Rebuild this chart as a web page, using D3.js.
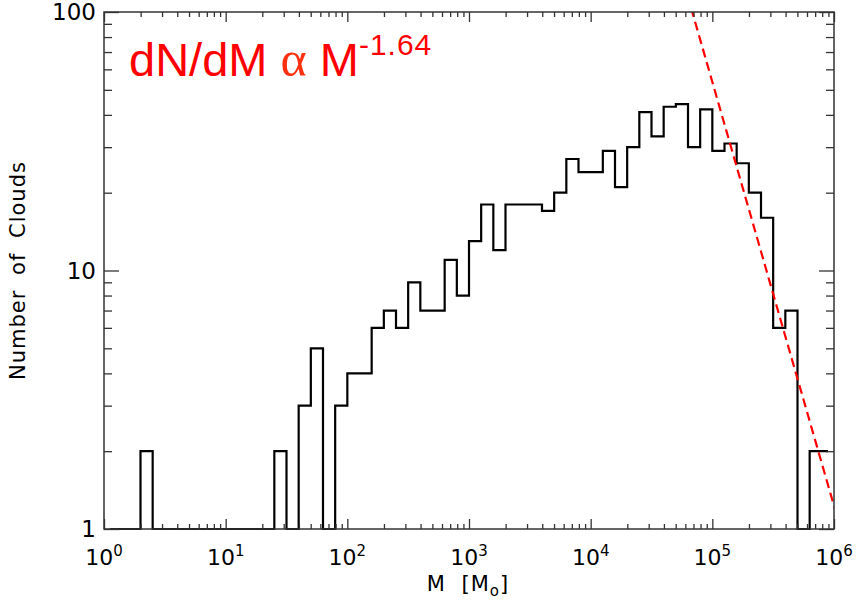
<!DOCTYPE html>
<html>
<head>
<meta charset="utf-8">
<script src="https://cdn.jsdelivr.net/npm/d3@7"></script>
<style>
  body { margin: 0; background: #fff; }
  text { font-family: "DejaVu Sans", sans-serif; }
</style>
</head>
<body>
<script>
// chart size & plot box
var width = 858,
    height = 603;
var margin = {left: 104, right: 24, top: 12, bottom: 74};

// log10(M) bin centres of the histogram (0.1 dex bins)
var logMassCentres = [0.05, 0.15, 0.25, 0.35, 0.45, 0.55, 0.65, 0.75, 0.85, 0.95,
                      1.05, 1.15, 1.25, 1.35, 1.45, 1.55, 1.65, 1.75, 1.85, 1.95,
                      2.05, 2.15, 2.25, 2.35, 2.45, 2.55, 2.65, 2.75, 2.85, 2.95,
                      3.05, 3.15, 3.25, 3.35, 3.45, 3.55, 3.65, 3.75, 3.85, 3.95,
                      4.05, 4.15, 4.25, 4.35, 4.45, 4.55, 4.65, 4.75, 4.85, 4.95,
                      5.05, 5.15, 5.25, 5.35, 5.45, 5.55, 5.65, 5.75, 5.85, 5.95];

// number of clouds per bin
var cloudCounts = [1, 1, 1, 2, 1, 1, 1, 1, 1, 1,
                   1, 1, 1, 1, 2, 1, 3, 5, 1, 3,
                   4, 4, 6, 7, 6, 9, 7, 7, 11, 8,
                   13, 18, 12, 18, 18, 18, 17, 20, 27, 24,
                   24, 29, 21, 30, 41, 33, 43, 44, 30, 42,
                   29, 31, 26, 20, 16, 6, 7, 1, 2, 2];

// power-law fit dN/dM ~ M^-1.64
var fitSlope = -1.64;
var fitNorm = 8.5e9;
var fitMassRange = [3e4, 2e6];

var xDomain = [1, 1e6],
    yDomain = [1, 100];
var yTickLabels = ["1", "10", "100"];

var x = d3.scaleLog().domain(xDomain).range([margin.left, width - margin.right]);
var y = d3.scaleLog().domain(yDomain).range([height - margin.bottom, margin.top]);

var svg = d3.select("body").append("svg")
    .attr("width", width)
    .attr("height", height);

svg.append("defs").append("clipPath")
    .attr("id", "plotclip")
  .append("rect")
    .attr("x", margin.left)
    .attr("y", margin.top)
    .attr("width", width - margin.left - margin.right)
    .attr("height", height - margin.top - margin.bottom);

// histogram
var bins = logMassCentres.map(function(lm, i) { return {m: Math.pow(10, lm), n: cloudCounts[i]}; });

var histLine = d3.line()
    .x(function(d) { return x(d.m); })
    .y(function(d) { return y(d.n); })
    .curve(d3.curveStep);

svg.append("path")
    .datum(bins)
    .attr("fill", "none")
    .attr("stroke", "#000")
    .attr("stroke-width", 2.2)
    .attr("d", histLine);

// fitted power law
var fitPts = fitMassRange.map(function(m) { return {m: m, n: fitNorm * Math.pow(m, fitSlope)}; });
svg.append("path")
    .datum(fitPts)
    .attr("clip-path", "url(#plotclip)")
    .attr("fill", "none")
    .attr("stroke", "#ff0000")
    .attr("stroke-width", 2.2)
    .attr("stroke-dasharray", "9,5")
    .attr("d", d3.line().x(function(d) { return x(d.m); }).y(function(d) { return y(d.n); }));

// axes, ticks pointing inwards on all four sides
var x0 = margin.left, x1 = width - margin.right,
    y0 = margin.top, y1 = height - margin.bottom;

var xMajor = [1, 10, 100, 1e3, 1e4, 1e5, 1e6];
var isMajor = function(v) { return Math.abs(Math.log10(v) - Math.round(Math.log10(v))) < 1e-9; };

function styleAxis(g) {
  g.select(".domain").remove();
  g.selectAll(".tick text").remove();
  g.selectAll(".tick line").attr("stroke", "#333").attr("stroke-width", 1.3);
}

var axB = svg.append("g").attr("transform", "translate(0," + y1 + ")")
    .call(d3.axisBottom(x).tickValues(x.ticks()).tickSize(-5)).call(styleAxis);
axB.selectAll(".tick line").filter(isMajor).attr("y2", -10);

var axT = svg.append("g").attr("transform", "translate(0," + y0 + ")")
    .call(d3.axisTop(x).tickValues(x.ticks()).tickSize(-5)).call(styleAxis);
axT.selectAll(".tick line").filter(isMajor).attr("y2", 10);

var axL = svg.append("g").attr("transform", "translate(" + x0 + ",0)")
    .call(d3.axisLeft(y).tickValues(y.ticks()).tickSize(-8)).call(styleAxis);
axL.selectAll(".tick line").filter(isMajor).attr("x2", 15);

var axR = svg.append("g").attr("transform", "translate(" + x1 + ",0)")
    .call(d3.axisRight(y).tickValues(y.ticks()).tickSize(-8)).call(styleAxis);
axR.selectAll(".tick line").filter(isMajor).attr("x2", -15);

svg.append("rect")
    .attr("x", x0).attr("y", y0)
    .attr("width", x1 - x0).attr("height", y1 - y0)
    .attr("fill", "none")
    .attr("stroke", "#333")
    .attr("stroke-width", 1.5);

// tick labels
svg.selectAll(".xlab")
    .data(xMajor)
  .enter().append("text")
    .attr("class", "xlab")
    .attr("x", function(d) { return x(d); })
    .attr("y", y1 + 36)
    .attr("text-anchor", "middle")
    .attr("font-size", 22)
    .each(function(d) {
      var t = d3.select(this);
      t.append("tspan").text("10");
      t.append("tspan").attr("dy", -9).attr("font-size", 15).text(Math.round(Math.log10(d)));
    });

svg.selectAll(".ylab")
    .data(yTickLabels)
  .enter().append("text")
    .attr("class", "ylab")
    .attr("x", x0 - 8)
    .attr("y", function(d) { return y(+d); })
    .attr("dy", "0.36em")
    .attr("text-anchor", "end")
    .attr("font-size", 23)
    .text(function(d) { return d; });

// axis titles
var xt = svg.append("text")
    .attr("x", 468)
    .attr("y", 591)
    .attr("text-anchor", "middle")
    .attr("font-size", 21)
    .attr("letter-spacing", 1)
    .attr("word-spacing", 8);
xt.append("tspan").text("M [M");
xt.append("tspan").attr("dy", 5).attr("font-size", 15).text("o");
xt.append("tspan").attr("dy", -5).text("]");

svg.append("text")
    .attr("transform", "translate(25," + ((y0 + y1) / 2) + ") rotate(-90)")
    .attr("text-anchor", "middle")
    .attr("font-size", 21)
    .attr("letter-spacing", 1)
    .attr("word-spacing", 7)
    .text("Number of Clouds");

// power-law label
var lab = svg.append("text")
    .attr("x", 129)
    .attr("y", 76)
    .attr("fill", "#ff0000")
    .attr("font-size", 47)
    .style("font-family", "'Liberation Sans', Arial, sans-serif");
lab.append("tspan").text("dN/dM ");
lab.append("tspan").attr("fill", "#ff3010").attr("font-size", 50)
    .style("font-family", "'Liberation Serif', serif").text("\u03b1");
lab.append("tspan").text(" M");
lab.append("tspan").attr("dy", -21).attr("font-size", 30).attr("letter-spacing", 1).text("-1.64");
</script>
</body>
</html>
